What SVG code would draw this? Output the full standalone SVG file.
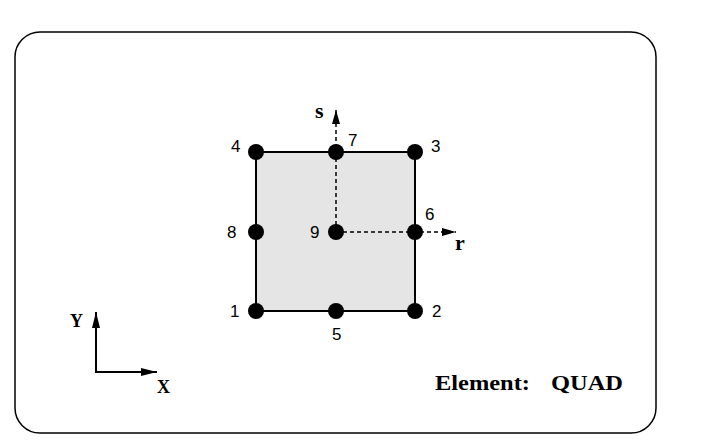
<svg xmlns="http://www.w3.org/2000/svg" width="705" height="448" viewBox="0 0 705 448">
<style>
.n{fill:#000}
.lbl{font-family:"Liberation Sans",Arial,sans-serif;font-size:17px;fill:#000}
.ser{font-family:"Liberation Serif","Times New Roman",serif;font-weight:bold;fill:#000}
.dash{stroke:#000;stroke-width:1.5;stroke-dasharray:4,3;fill:none}
.ax{stroke:#000;stroke-width:2;fill:none}
</style>
<defs>
<marker id="ar" viewBox="0 0 14 8" refX="14" refY="4" markerWidth="14" markerHeight="8" markerUnits="userSpaceOnUse" orient="auto"><path d="M0,0L14,4L0,8z" fill="#000"/></marker>
<marker id="ar2" viewBox="0 0 16 8" refX="16" refY="4" markerWidth="16" markerHeight="8" markerUnits="userSpaceOnUse" orient="auto"><path d="M0,0L16,4L0,8z" fill="#000"/></marker>
</defs>
<rect x="0" y="0" width="705" height="448" fill="#fff"/>
<rect x="15" y="32" width="641" height="401" rx="25" fill="#fff" stroke="#000" stroke-width="1.5"/>
<g id="element"><rect x="256" y="152" width="159" height="159" fill="#e5e5e5" stroke="#000" stroke-width="2"/></g>
<g id="connectors">
<line class="dash" x1="336" y1="232" x2="336" y2="110" marker-end="url(#ar)"/>
<line class="dash" x1="336" y1="232" x2="456" y2="232" marker-end="url(#ar)"/>
<line class="ax" x1="96" y1="372" x2="96" y2="312" marker-end="url(#ar2)"/>
<line class="ax" x1="95" y1="372" x2="157" y2="372" marker-end="url(#ar2)"/>
</g>
<g id="n1"><circle class="n" cx="256" cy="311" r="8"/><text class="lbl" x="230" y="317">1</text></g>
<g id="n2"><circle class="n" cx="415" cy="311" r="8"/><text class="lbl" x="432" y="317">2</text></g>
<g id="n3"><circle class="n" cx="415" cy="152" r="8"/><text class="lbl" x="431" y="152">3</text></g>
<g id="n4"><circle class="n" cx="256" cy="152" r="8"/><text class="lbl" x="231" y="152">4</text></g>
<g id="n5"><circle class="n" cx="336" cy="311" r="8"/><text class="lbl" x="332" y="340">5</text></g>
<g id="n6"><circle class="n" cx="415" cy="232" r="8"/><text class="lbl" x="425" y="220">6</text></g>
<g id="n7"><circle class="n" cx="336" cy="152" r="8"/><text class="lbl" x="348" y="146">7</text></g>
<g id="n8"><circle class="n" cx="256" cy="232" r="8"/><text class="lbl" x="227" y="238">8</text></g>
<g id="n9"><circle class="n" cx="336" cy="232" r="8"/><text class="lbl" x="310" y="238">9</text></g>
<text class="ser" x="315" y="118" font-size="22">s</text>
<text class="ser" x="455" y="250" font-size="22">r</text>
<text class="ser" x="70" y="327" font-size="18">Y</text>
<text class="ser" x="157" y="393" font-size="18">X</text>
<text class="ser" x="435" y="390" font-size="21" textLength="95" lengthAdjust="spacingAndGlyphs">Element:</text>
<text class="ser" x="551" y="390" font-size="21" textLength="72" lengthAdjust="spacingAndGlyphs">QUAD</text>
</svg>
